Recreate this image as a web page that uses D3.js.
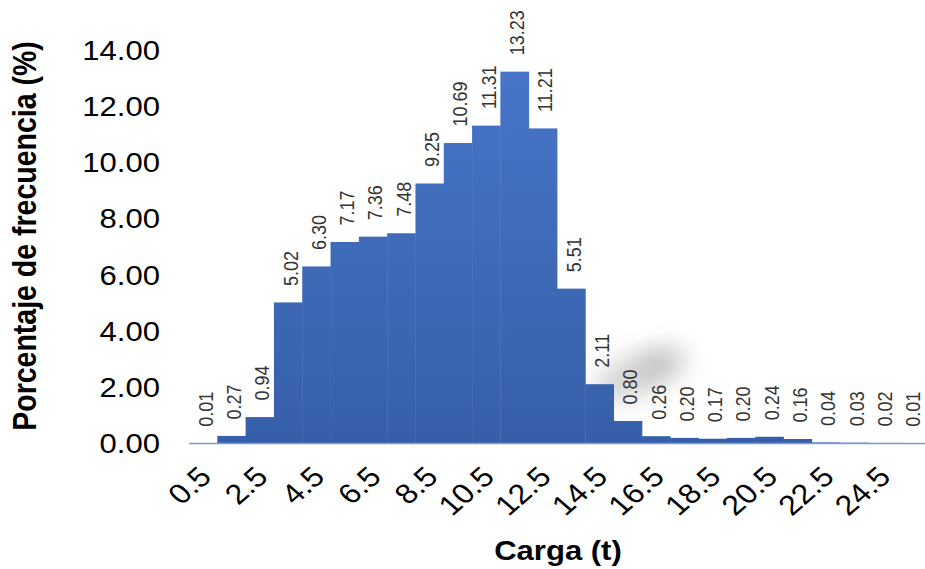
<!DOCTYPE html>
<html>
<head>
<meta charset="utf-8">
<script src="https://cdn.jsdelivr.net/npm/d3@7/dist/d3.min.js"></script>
<style>
  html, body { margin: 0; padding: 0; background: #fff; }
  svg { display: block; font-family: "Liberation Sans", Arial, sans-serif; }
</style>
</head>
<body>
<svg id="chart" width="925" height="569"></svg>
<script>
// Load classes (t): class centres 0.5 ... 25.5
const categories = ["0.5","1.5","2.5","3.5","4.5","5.5","6.5","7.5","8.5","9.5","10.5","11.5","12.5",
                    "13.5","14.5","15.5","16.5","17.5","18.5","19.5","20.5","21.5","22.5","23.5","24.5","25.5"];
// Frequency percentage for each class
const values = [0.01, 0.27, 0.94, 5.02, 6.30, 7.17, 7.36, 7.48, 9.25, 10.69, 11.31, 13.23, 11.21,
                5.51, 2.11, 0.80, 0.26, 0.20, 0.17, 0.20, 0.24, 0.16, 0.04, 0.03, 0.02, 0.01];
// Labelled classes on the horizontal axis
const xTickLabels = ["0.5","2.5","4.5","6.5","8.5","10.5","12.5","14.5","16.5","18.5","20.5","22.5","24.5"];
// Vertical axis ticks
const yTicks = [0, 2, 4, 6, 8, 10, 12, 14];

const svg = d3.select("#chart");
const SX = 1.15; // horizontal text widening

const x = d3.scaleBand().domain(categories).range([189, 925]).padding(0);
const y = d3.scaleLinear().domain([0, 14]).range([443.5, 50]);

// bar fill: vertical gradient
const defs = svg.append("defs");
const grad = defs.append("linearGradient")
  .attr("id", "barFill").attr("gradientUnits", "userSpaceOnUse")
  .attr("x1", 0).attr("y1", y(14)).attr("x2", 0).attr("y2", y(0));
grad.append("stop").attr("offset", "0%").attr("stop-color", "#4876c9");
grad.append("stop").attr("offset", "100%").attr("stop-color", "#375fa9");

const haze = defs.append("filter").attr("id", "haze")
  .attr("x", "-80%").attr("y", "-80%").attr("width", "260%").attr("height", "260%");
haze.append("feGaussianBlur").attr("stdDeviation", 12);

// soft grey smudge near the right-hand tail
svg.append("ellipse")
  .attr("cx", 0).attr("cy", 0).attr("rx", 50).attr("ry", 20)
  .attr("transform", "translate(640,374) rotate(-22)")
  .attr("fill", "#a8a8a8").attr("opacity", 0.5)
  .attr("filter", "url(#haze)");
svg.append("ellipse")
  .attr("cx", 0).attr("cy", 0).attr("rx", 20).attr("ry", 10)
  .attr("transform", "translate(655,364) rotate(-20)")
  .attr("fill", "#a0a0a0").attr("opacity", 0.45)
  .attr("filter", "url(#haze)");

// bars
svg.append("g").selectAll("rect")
  .data(values)
  .join("rect")
  .attr("x", (d, i) => x(categories[i]))
  .attr("width", x.bandwidth() + 0.4)
  .attr("y", d => y(d))
  .attr("height", d => y(0) - y(d))
  .attr("fill", "url(#barFill)");

// baseline
svg.append("line")
  .attr("x1", x.range()[0]).attr("x2", x.range()[1])
  .attr("y1", y(0)).attr("y2", y(0))
  .attr("stroke", "#7d9ad2").attr("stroke-width", 1.5);

// value labels
svg.append("g").selectAll("text")
  .data(values)
  .join("text")
  .attr("transform", (d, i) =>
    `translate(${x(categories[i]) + x.bandwidth() / 2 + 2},${y(d) - 16.5}) scale(${SX},1) rotate(-90)`)
  .attr("dy", "0.36em")
  .attr("text-anchor", "start")
  .attr("font-size", 18)
  .attr("fill", "#333")
  .text(d => d.toFixed(2));

// y axis tick labels (no axis line)
const yAxis = d3.axisLeft(y).tickValues(yTicks).tickFormat(d3.format(".2f")).tickSize(0);
const gy = svg.append("g").attr("transform", "translate(160,0)").call(yAxis);
gy.select(".domain").remove();
gy.selectAll("text")
  .attr("x", 0).attr("dy", null)
  .attr("transform", d => `translate(0,${y(d)}) scale(${SX},1) translate(0,${-y(d)})`)
  .attr("y", d => 0)
  .attr("font-size", 27)
  .attr("font-family", "'Liberation Sans', Arial, sans-serif")
  .attr("fill", "#000")
  .attr("text-anchor", "end")
  .attr("dominant-baseline", "central");

// x axis tick labels, rotated
const xAxis = d3.axisBottom(x).tickValues(xTickLabels).tickSize(0);
const gx = svg.append("g").attr("transform", `translate(0,${y(0)})`).call(xAxis);
gx.select(".domain").remove();
gx.selectAll(".tick").attr("transform", null);
gx.selectAll(".tick text")
  .attr("x", 0).attr("y", 0).attr("dy", null)
  .attr("transform", d => `translate(${x(d) + x.bandwidth() / 2 + 10},${35}) scale(${SX},1) rotate(-45)`)
  .attr("text-anchor", "end")
  .attr("font-size", 28)
  .attr("font-family", "'Liberation Sans', Arial, sans-serif")
  .attr("fill", "#000");

// axis titles
svg.append("text")
  .attr("transform", `translate(36,236) scale(${SX},1) rotate(-90)`)
  .attr("text-anchor", "middle")
  .attr("font-size", 28.5)
  .attr("font-weight", "bold")
  .attr("fill", "#000")
  .text("Porcentaje de frecuencia (%)");

svg.append("text")
  .attr("transform", `translate(558,560) scale(${SX},1)`)
  .attr("text-anchor", "middle")
  .attr("font-size", 27)
  .attr("font-weight", "bold")
  .attr("fill", "#000")
  .text("Carga (t)");
</script>
</body>
</html>
